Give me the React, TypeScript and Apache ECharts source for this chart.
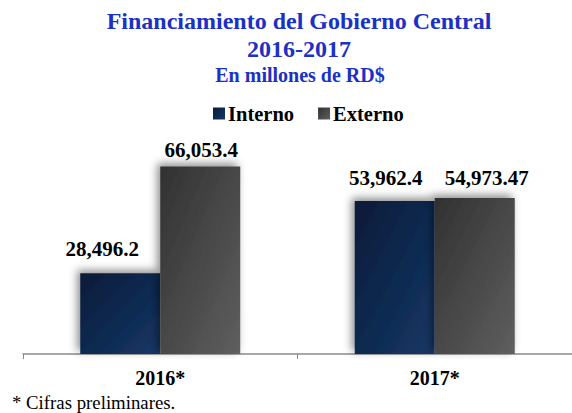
import React, { useEffect, useRef } from "react";
import * as echarts from "echarts";

const categories = ["2016*", "2017*"];
const interno = [28496.2, 53962.4];
const externo = [66053.4, 54973.47];
const seriesNames = ["Interno", "Externo"];
const titleLines = ["Financiamiento del Gobierno Central", "2016-2017", "En millones de RD$"];
const footnote = "* Cifras preliminares.";

const FONT = "'Liberation Serif', 'Times New Roman', serif";
const internoOffsets = [[-18, -8], [-9, -6]];
const externoOffsets = [[1, 0], [12, -4]];

export default function App() {
  const ref = useRef<HTMLDivElement>(null);
  useEffect(() => {
    if (!ref.current) return;
    const chart = echarts.init(ref.current, null, { renderer: "svg" });
    const fmt = (p: any) =>
      Number(p.value).toLocaleString("en-US", { maximumFractionDigits: 2 });
    const labelBase = {
      show: true,
      position: "top",
      distance: 6,
      formatter: fmt,
      fontFamily: FONT,
      fontWeight: "bold",
      fontSize: 21,
      color: "#000",
    };
    const internoColor = new echarts.graphic.LinearGradient(0, 0, 1, 1, [
      { offset: 0, color: "#0b1b38" },
      { offset: 1, color: "#143766" },
    ]);
    const externoColor = new echarts.graphic.LinearGradient(0, 0, 1, 1, [
      { offset: 0, color: "#313131" },
      { offset: 1, color: "#5f5f5f" },
    ]);
    const shadow = {
      shadowBlur: 8,
      shadowColor: "rgba(0,0,0,0.45)",
      shadowOffsetX: -3,
      shadowOffsetY: -3,
    };
    const titleStyle = (text: string, size: number) => ({
      text,
      fontFamily: FONT,
      fontWeight: "bold",
      fontSize: size,
      fill: "#1b31c6",
      align: "center",
      verticalAlign: "middle",
    });
    chart.setOption({
      animation: false,
      graphic: [
        { type: "text", x: 299, y: 21, style: titleStyle(titleLines[0], 24) },
        { type: "text", x: 299, y: 49, style: titleStyle(titleLines[1], 24) },
        { type: "text", x: 300, y: 75, style: titleStyle(titleLines[2], 20) },
        {
          type: "text",
          x: 12,
          y: 402,
          style: {
            text: footnote,
            fontFamily: FONT,
            fontSize: 18.8,
            fill: "#000",
            align: "left",
            verticalAlign: "middle",
          },
        },
      ],
      legend: {
        data: seriesNames,
        left: 208,
        top: 98,
        icon: "rect",
        itemWidth: 12,
        itemHeight: 12,
        itemGap: 24,
        textStyle: {
          fontFamily: FONT,
          fontWeight: "bold",
          fontSize: 20.5,
          color: "#000",
          padding: [0, 0, 0, -2],
        },
      },
      grid: { left: 23, top: 127, width: 554, height: 227, containLabel: false },
      xAxis: {
        type: "category",
        data: categories,
        axisLine: { lineStyle: { color: "#8a8a8a", width: 1.5 } },
        axisTick: { show: true, length: 5, lineStyle: { color: "#8a8a8a" } },
        axisLabel: {
          margin: 14,
          fontFamily: FONT,
          fontWeight: "bold",
          fontSize: 20,
          color: "#000",
        },
      },
      yAxis: {
        type: "value",
        min: 0,
        max: 80000,
        show: false,
        splitLine: { show: false },
      },
      series: [
        {
          name: seriesNames[0],
          type: "bar",
          barWidth: 80,
          barGap: "0%",
          itemStyle: { color: internoColor, ...shadow },
          label: labelBase,
          data: interno.map((v, i) => ({
            value: v,
            label: { offset: internoOffsets[i] },
          })),
        },
        {
          name: seriesNames[1],
          type: "bar",
          barWidth: 80,
          barGap: "0%",
          itemStyle: { color: externoColor, ...shadow },
          label: labelBase,
          data: externo.map((v, i) => ({
            value: v,
            label: { offset: externoOffsets[i] },
          })),
        },
      ],
    });
    return () => chart.dispose();
  }, []);
  return (
    <div
      ref={ref}
      style={{ position: "absolute", left: 0, top: 0, width: 572, height: 413 }}
    />
  );
}
